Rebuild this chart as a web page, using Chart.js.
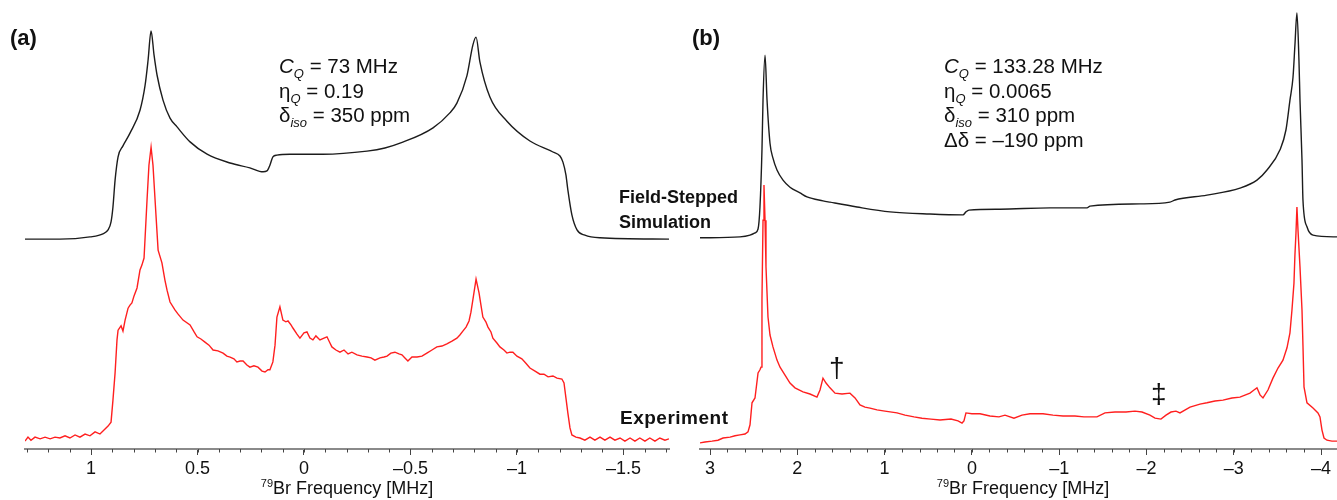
<!DOCTYPE html>
<html>
<head>
<meta charset="utf-8">
<script src="https://cdn.jsdelivr.net/npm/chart.js@4.4.1/dist/chart.umd.min.js"></script>
<style>
  body { margin: 0; background: #fff; }
  #wrap { position: relative; width: 1337px; height: 500px; overflow: hidden; font-family: "Liberation Sans", Arial, sans-serif; color: #111; }
  .panel { position: absolute; top: 0; height: 500px; }
  .txt { position: absolute; white-space: nowrap; z-index: 2; }
  .lbl { font-weight: bold; font-size: 22px; line-height: 1; }
  .params { font-size: 20.5px; }
  .params div { height: 24.5px; line-height: 24.5px; }
  .params sub { font-size: 13px; line-height: 0; vertical-align: -5px; }
  .tag { font-weight: bold; font-size: 18px; line-height: 25px; }
  .mark { font-size: 28px; line-height: 28px; }
  .xtitle { font-size: 18px; line-height: 20px; text-align: center; width: 300px; }
  .xtitle sup { font-size: 11px; vertical-align: 7px; line-height: 0; }
</style>
</head>
<body>
<div id="wrap">
  <div class="panel" style="left:0;width:680px"><canvas id="chartA" width="680" height="500"></canvas></div>
  <div class="panel" style="left:690px;width:647px"><canvas id="chartB" width="647" height="500"></canvas></div>

  <div class="txt lbl" style="left:10px;top:27px">(a)</div>
  <div class="txt lbl" style="left:692px;top:27px">(b)</div>

  <div class="txt params" style="left:279px;top:54px">
    <div><i>C</i><sub><i>Q</i></sub> = 73 MHz</div>
    <div>η<sub><i>Q</i></sub> = 0.19</div>
    <div>δ<sub><i>iso</i></sub> = 350 ppm</div>
  </div>
  <div class="txt params" style="left:944px;top:54px">
    <div><i>C</i><sub><i>Q</i></sub> = 133.28 MHz</div>
    <div>η<sub><i>Q</i></sub> = 0.0065</div>
    <div>δ<sub><i>iso</i></sub> = 310 ppm</div>
    <div>Δδ = –190 ppm</div>
  </div>

  <div class="txt tag" style="left:619px;top:185px">Field-Stepped<br>Simulation</div>
  <div class="txt tag" style="left:620px;top:405px;font-size:19px;letter-spacing:0.5px">Experiment</div>

  <div class="txt mark" style="left:829px;top:354px">†</div>
  <div class="txt mark" style="left:1151px;top:380px">‡</div>

  <div class="txt xtitle" style="left:197px;top:478px"><sup>79</sup>Br Frequency [MHz]</div>
  <div class="txt xtitle" style="left:873px;top:478px"><sup>79</sup>Br Frequency [MHz]</div>
</div>

<script>
// ---- panel (a) : 79Br, CQ = 73 MHz ----
const simA_x = [1.310, 1.146, 1.005, 0.944, 0.920, 0.906, 0.897, 0.887, 0.873, 0.850, 0.817, 0.770, 0.746, 0.732, 0.718, 0.704, 0.690, 0.662, 0.629, 0.596, 0.535, 0.455, 0.347, 0.254, 0.192, 0.174, 0.160, 0.146, 0.127, 0.066, -0.089, -0.296, -0.380, -0.451, -0.606, -0.685, -0.718, -0.765, -0.793, -0.808, -0.826, -0.873, -0.953, -1.061, -1.169, -1.202, -1.216, -1.230, -1.239, -1.258, -1.282, -1.319, -1.390, -1.714];
const simA_y = [47.7, 47.7, 48.2, 48.9, 49.8, 51.6, 55.0, 61.1, 66.4, 68.9, 71.8, 77.0, 82.7, 88.4, 95.0, 89.5, 85.0, 79.3, 75.2, 73.2, 69.8, 67.0, 65.0, 63.9, 63.0, 63.2, 64.5, 66.4, 66.8, 67.0, 67.0, 67.7, 68.4, 69.5, 73.0, 76.4, 78.6, 84.8, 91.8, 93.6, 88.0, 80.0, 74.5, 70.0, 67.5, 66.6, 65.2, 62.3, 58.9, 53.2, 49.8, 48.6, 48.0, 47.7];

const expA_x = [1.310, 1.296, 1.282, 1.263, 1.239, 1.216, 1.192, 1.169, 1.146, 1.122, 1.099, 1.075, 1.052, 1.028, 1.005, 0.981, 0.958, 0.939, 0.920, 0.906, 0.897, 0.887, 0.878, 0.873, 0.859, 0.850, 0.840, 0.826, 0.817, 0.808, 0.798, 0.784, 0.770, 0.761, 0.751, 0.737, 0.728, 0.718, 0.709, 0.695, 0.685, 0.667, 0.653, 0.643, 0.629, 0.606, 0.592, 0.568, 0.535, 0.516, 0.502, 0.484, 0.465, 0.446, 0.427, 0.404, 0.380, 0.362, 0.347, 0.329, 0.315, 0.300, 0.286, 0.268, 0.254, 0.235, 0.216, 0.197, 0.183, 0.169, 0.160, 0.146, 0.136, 0.127, 0.113, 0.099, 0.085, 0.075, 0.061, 0.052, 0.033, 0.019, 0.000, -0.014, -0.028, -0.042, -0.056, -0.075, -0.094, -0.108, -0.122, -0.131, -0.150, -0.169, -0.188, -0.207, -0.225, -0.249, -0.272, -0.296, -0.315, -0.333, -0.357, -0.376, -0.390, -0.408, -0.427, -0.446, -0.460, -0.474, -0.488, -0.507, -0.531, -0.554, -0.577, -0.601, -0.624, -0.648, -0.671, -0.695, -0.718, -0.732, -0.746, -0.761, -0.775, -0.784, -0.793, -0.808, -0.822, -0.831, -0.840, -0.854, -0.864, -0.878, -0.887, -0.906, -0.920, -0.939, -0.953, -0.967, -0.981, -1.000, -1.023, -1.042, -1.061, -1.085, -1.108, -1.127, -1.146, -1.169, -1.188, -1.211, -1.221, -1.230, -1.239, -1.249, -1.258, -1.277, -1.296, -1.319, -1.343, -1.366, -1.390, -1.413, -1.437, -1.460, -1.484, -1.507, -1.531, -1.554, -1.577, -1.601, -1.624, -1.648, -1.671, -1.695, -1.714];
const expA_y = [1.8, 2.7, 2.0, 2.7, 2.3, 2.7, 2.3, 2.7, 2.5, 3.0, 2.5, 3.2, 2.7, 3.4, 3.0, 3.9, 3.4, 4.3, 5.2, 6.1, 11.1, 17.3, 24.8, 27.0, 28.0, 26.8, 29.3, 32.0, 32.7, 33.2, 34.8, 36.6, 40.7, 41.8, 43.4, 56.6, 64.5, 68.6, 64.5, 53.2, 45.2, 42.3, 38.4, 36.1, 33.4, 31.6, 30.7, 29.3, 28.2, 26.6, 25.5, 25.0, 24.3, 23.6, 22.5, 22.3, 21.8, 21.1, 20.9, 20.5, 19.8, 20.0, 20.0, 19.1, 18.6, 18.9, 18.6, 17.7, 17.5, 18.0, 18.0, 19.8, 23.6, 30.0, 32.3, 29.3, 28.9, 29.1, 28.2, 27.5, 26.1, 25.2, 26.4, 26.6, 25.2, 24.8, 25.7, 24.8, 25.2, 25.5, 24.1, 23.2, 22.5, 22.0, 22.5, 21.6, 22.0, 21.4, 21.1, 20.9, 20.7, 20.2, 20.7, 20.9, 21.1, 21.8, 22.0, 21.6, 21.4, 20.7, 20.0, 20.9, 20.9, 21.1, 21.8, 22.5, 23.2, 23.4, 23.9, 24.5, 25.2, 25.9, 26.8, 27.7, 29.1, 31.1, 33.9, 38.6, 35.5, 32.7, 30.0, 28.9, 27.7, 26.6, 25.2, 24.1, 23.2, 22.5, 21.8, 22.0, 22.0, 21.1, 20.5, 19.5, 18.4, 17.7, 17.0, 17.0, 16.4, 16.6, 16.1, 15.9, 15.0, 11.6, 8.2, 4.8, 3.2, 2.7, 2.5, 2.0, 2.7, 2.0, 2.7, 2.0, 2.7, 2.0, 2.5, 1.8, 2.5, 1.8, 2.5, 1.8, 2.5, 1.8, 2.5, 2.0, 2.3];

// ---- panel (b) : 79Br, CQ = 133.28 MHz ----
const simB_x = [3.115, 2.657, 2.542, 2.485, 2.450, 2.428, 2.405, 2.393, 2.370, 2.347, 2.313, 2.279, 2.233, 2.164, 2.084, 1.969, 1.889, 1.706, 1.626, 1.316, 0.938, 0.480, 0.102, 0.068, 0.033, -0.322, -0.895, -1.319, -1.353, -1.926, -2.269, -2.327, -2.693, -3.071, -3.266, -3.381, -3.530, -3.598, -3.644, -3.679, -3.701, -3.724, -3.747, -3.759, -3.782, -3.793, -3.839, -3.908, -4.183];
const simB_y = [48.0, 48.2, 48.6, 49.1, 50.0, 55.0, 68.0, 79.3, 89.5, 79.3, 69.5, 66.1, 63.4, 61.1, 59.5, 58.2, 57.3, 56.4, 56.1, 55.0, 53.9, 53.4, 53.2, 53.9, 54.3, 54.5, 54.8, 54.8, 55.2, 55.7, 56.1, 56.6, 57.7, 59.3, 61.1, 63.4, 68.0, 72.5, 79.3, 84.5, 91.8, 99.1, 88.4, 79.3, 65.7, 56.6, 50.5, 48.6, 48.2];

const expB_x = [3.115, 3.058, 2.977, 2.909, 2.851, 2.771, 2.714, 2.657, 2.599, 2.565, 2.542, 2.519, 2.485, 2.450, 2.428, 2.416, 2.405, 2.393, 2.382, 2.370, 2.359, 2.336, 2.313, 2.279, 2.233, 2.198, 2.141, 2.084, 2.027, 1.935, 1.855, 1.775, 1.740, 1.706, 1.671, 1.626, 1.568, 1.488, 1.397, 1.339, 1.282, 1.225, 1.167, 1.087, 0.996, 0.858, 0.766, 0.663, 0.572, 0.469, 0.365, 0.239, 0.159, 0.113, 0.091, 0.068, 0.000, -0.093, -0.207, -0.310, -0.379, -0.482, -0.574, -0.666, -0.815, -0.929, -1.044, -1.181, -1.284, -1.433, -1.525, -1.639, -1.765, -1.868, -1.949, -2.040, -2.098, -2.166, -2.224, -2.281, -2.338, -2.384, -2.499, -2.613, -2.693, -2.785, -2.877, -2.980, -3.071, -3.186, -3.232, -3.266, -3.301, -3.335, -3.392, -3.449, -3.507, -3.564, -3.610, -3.644, -3.667, -3.690, -3.701, -3.713, -3.724, -3.736, -3.759, -3.782, -3.793, -3.805, -3.839, -3.908, -3.965, -3.988, -4.011, -4.034, -4.068, -4.125, -4.183];
const expB_y = [1.4, 1.6, 1.8, 2.0, 2.5, 2.7, 3.0, 3.2, 3.4, 3.9, 5.5, 10.5, 11.6, 17.3, 18.0, 18.6, 33.9, 52.0, 60.0, 52.0, 41.4, 30.0, 25.9, 23.2, 20.2, 18.6, 16.8, 15.0, 13.9, 13.0, 12.5, 11.8, 13.4, 16.1, 15.0, 13.9, 12.7, 12.5, 12.7, 11.6, 10.0, 9.5, 9.3, 8.9, 8.6, 8.2, 7.7, 7.3, 7.0, 6.8, 6.6, 6.8, 6.4, 5.9, 6.4, 8.2, 8.0, 8.0, 7.5, 7.3, 7.7, 7.0, 7.7, 8.0, 8.0, 7.7, 7.5, 7.5, 7.3, 7.3, 8.2, 8.4, 8.4, 8.6, 8.4, 7.7, 7.0, 6.8, 7.7, 8.4, 8.6, 8.2, 9.5, 10.2, 10.5, 10.9, 11.1, 11.6, 11.8, 12.7, 13.4, 13.9, 12.3, 11.6, 13.4, 16.1, 18.4, 20.2, 23.0, 26.4, 31.6, 37.7, 44.1, 49.1, 55.0, 49.8, 41.4, 31.6, 23.6, 14.1, 10.5, 9.3, 8.2, 7.3, 4.3, 2.5, 2.0, 1.8, 1.8];

// axis ranges / ticks
const rangeA = [-1.714, 1.310];
const rangeB = [-4.183, 3.115];

function pts(xs, ys) {
  return xs.map((x, i) => ({ x: x, y: ys[i] }));
}

function fmt(v) {
  if (Math.abs(v) < 1e-9) return "0";
  return v < 0 ? "\u2013" + Math.abs(v) : String(v);
}

// short minor ticks between the labelled ones
const minorTicks = {
  id: "minorTicks",
  afterDraw(chart, args, opts) {
    const sc = chart.scales.x;
    const ctx = chart.ctx;
    const y0 = chart.chartArea.bottom;
    ctx.save();
    ctx.strokeStyle = "#444";
    ctx.lineWidth = 1;
    const first = Math.ceil(sc.min / opts.step - 1e-6);
    for (let k = first; k * opts.step <= sc.max + 1e-9; k++) {
      const px = Math.round(sc.getPixelForValue(k * opts.step)) + 0.5;
      ctx.beginPath();
      ctx.moveTo(px, y0);
      ctx.lineTo(px, y0 + 3.5);
      ctx.stroke();
    }
    ctx.restore();
  }
};

function makeChart(id, sim, exp, range, step, minor, pad) {
  return new Chart(document.getElementById(id), {
    type: "line",
    data: {
      datasets: [
        // simulation is a smooth trace, experiment keeps its jagged look
        { data: sim, borderColor: "#1c1c1c", borderWidth: 1.4, cubicInterpolationMode: "monotone" },
        { data: exp, borderColor: "#ff1f1f", borderWidth: 1.4 }
      ]
    },
    options: {
      responsive: false,
      animation: false,
      elements: { point: { radius: 0 }, line: { tension: 0 } },
      layout: { padding: { left: pad[0], right: pad[1], top: 9, bottom: 0 } },
      plugins: { legend: { display: false }, tooltip: { enabled: false }, minorTicks: { step: minor } },
      scales: {
        x: {
          type: "linear",
          reverse: true,
          min: range[0],
          max: range[1],
          afterFit(scale) { scale.height = 51; },
          border: { display: true, color: "#8a8a8a", width: 2 },
          grid: { drawOnChartArea: false, drawTicks: true, tickLength: 6, color: "#444", lineWidth: 1 },
          ticks: {
            stepSize: step,
            includeBounds: false,
            autoSkip: false,
            maxRotation: 0,
            padding: 3,
            color: "#111",
            font: { family: "'Liberation Sans', Arial, sans-serif", size: 18 },
            callback: (v) => fmt(Math.round(v * 100) / 100)
          }
        },
        y: { display: false, min: 0, max: 100 }
      }
    },
    plugins: [minorTicks]
  });
}

makeChart("chartA", pts(simA_x, simA_y), pts(expA_x, expA_y), rangeA, 0.5, 0.1, [25, 11]);
makeChart("chartB", pts(simB_x, simB_y), pts(expB_x, expB_y), rangeB, 1, 0.2, [10, 0]);
</script>
</body>
</html>
